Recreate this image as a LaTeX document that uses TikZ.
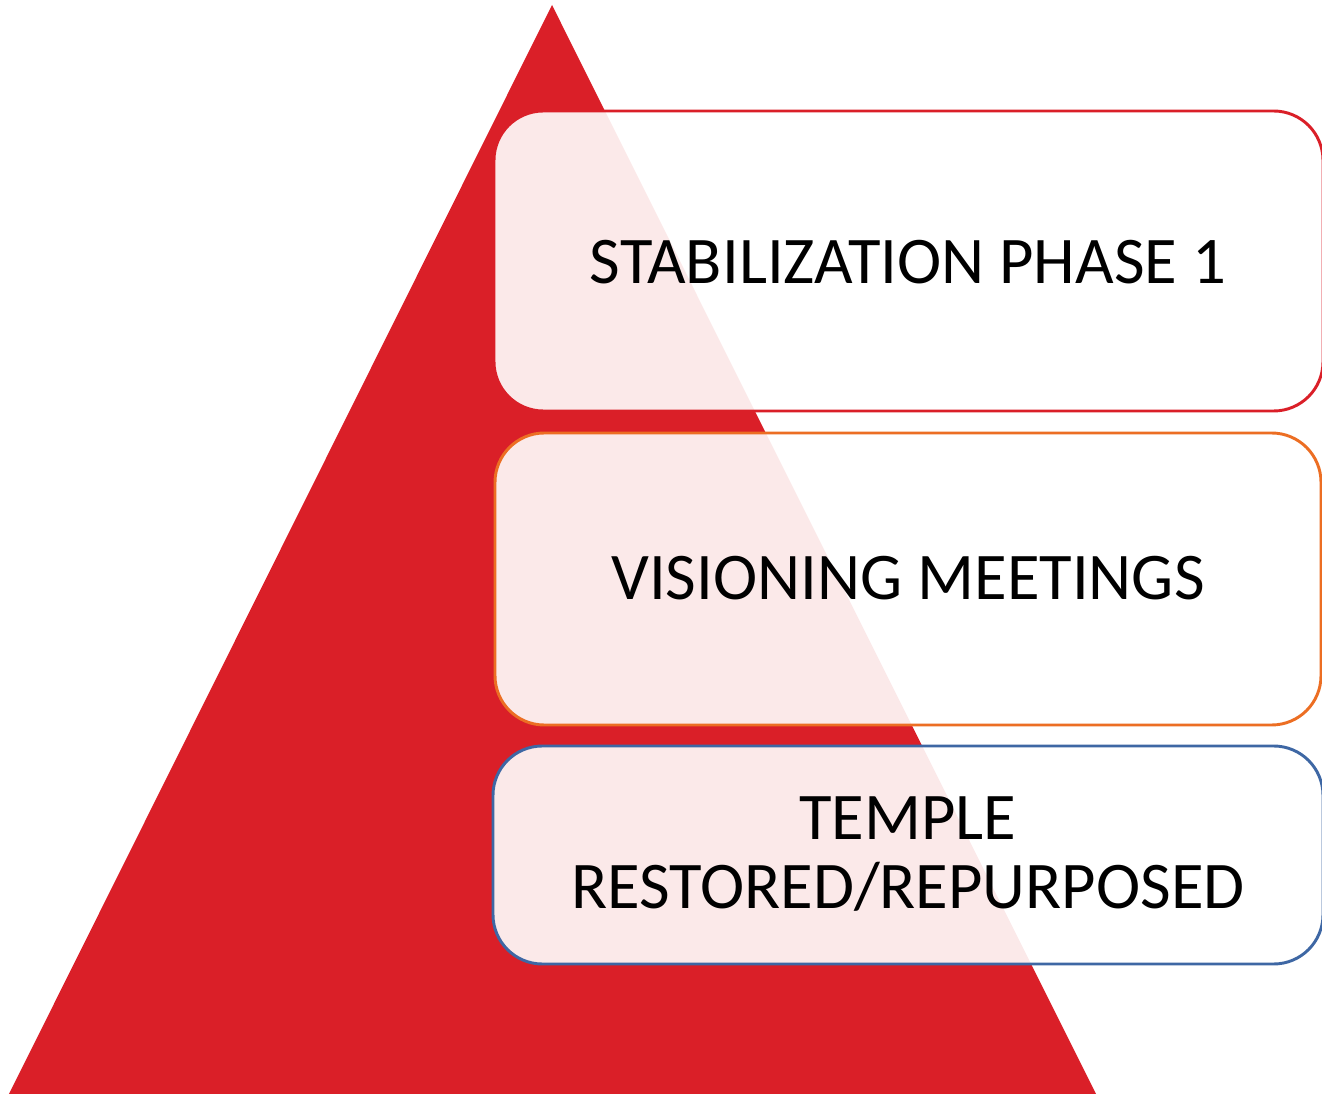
\documentclass[tikz,border=0pt]{standalone}
\usepackage{fontspec}
\setmainfont{Carlito}
\definecolor{tri}{HTML}{DA1F28}
\definecolor{borA}{HTML}{DA1F28}
\definecolor{borB}{HTML}{EC6E23}
\definecolor{borC}{HTML}{3E67A4}
\begin{document}
\begin{tikzpicture}[x=0.75pt,y=-0.75pt,
  stagebox/.style={line width=2.2pt, rounded corners=37pt, fill=white, fill opacity=0.9},
  stagetext/.style={font=\fontsize{50}{52}\selectfont, text=black, align=center}]
\useasboundingbox (0,0) rectangle (1322,1094);
\begin{scope}
\clip (0,0) rectangle (1322,1094);
\fill[tri] (552,5) -- (1097,1096) -- (8,1096) -- cycle;
\draw[stagebox, draw=borA] (494,111) rectangle (1323,411);
\draw[stagebox, draw=borB] (495,433) rectangle (1321,725);
\draw[stagebox, draw=borC] (493,746) rectangle (1323,964);
\end{scope}
\node[stagetext] (s1) at (908,262) {STABILIZATION PHASE 1};
\node[stagetext] (s2) at (908,578) {VISIONING MEETINGS};
\node[stagetext] (s3) at (908,854) {TEMPLE\\RESTORED/REPURPOSED};
\end{tikzpicture}
\end{document}
